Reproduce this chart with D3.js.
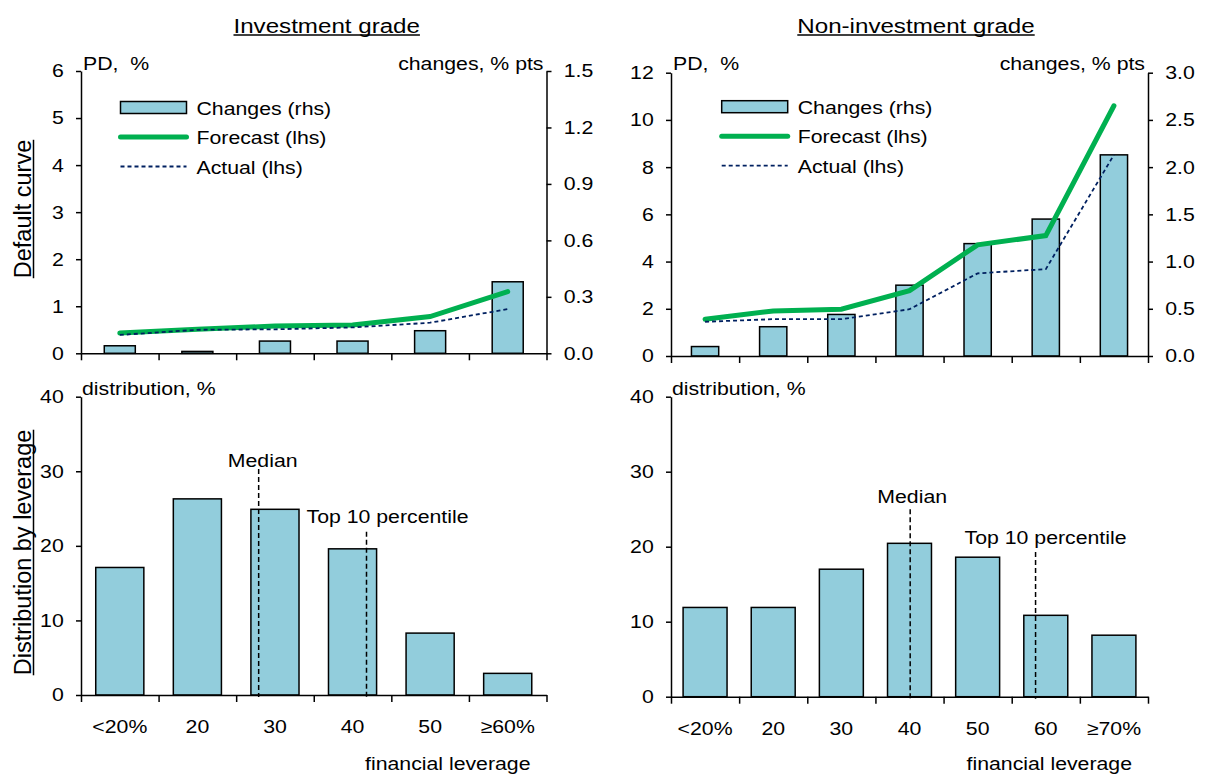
<!DOCTYPE html>
<html lang="en">
<head>
<meta charset="utf-8">
<title>Default curve and leverage distribution</title>
<script src="https://cdn.jsdelivr.net/npm/d3@7"></script>
<style>
body { margin: 0; background: #fff; }
svg text { font-family: "Liberation Sans", Arial, sans-serif; fill: #000; white-space: pre; }
.axis path, .axis line { stroke: #000; stroke-width: 1.5px; }
</style>
</head>
<body>
<script>
var w = 1211, h = 774;
var sx = 1.15;      // the source text is drawn a bit wide
var fs = 18.5;

// categories
var igCats = ["<20%", "20", "30", "40", "50", "\u226560%"];
var nigCats = ["<20%", "20", "30", "40", "50", "60", "\u226570%"];

// default curve, investment grade
var igChanges = [0.04, 0.01, 0.065, 0.065, 0.12, 0.38];   // % pts, rhs
var igForecast = [0.43, 0.51, 0.58, 0.60, 0.78, 1.31];    // %, lhs
var igActual = [0.39, 0.50, 0.51, 0.55, 0.65, 0.94];      // %, lhs

// default curve, non-investment grade
var nigChanges = [0.10, 0.31, 0.44, 0.75, 1.19, 1.45, 2.13];
var nigForecast = [1.56, 1.91, 1.98, 2.77, 4.71, 5.10, 10.6];
var nigActual = [1.45, 1.56, 1.56, 1.98, 3.50, 3.68, 8.52];

// distribution by leverage, %
var igDist = [17.1, 26.3, 24.9, 19.6, 8.3, 2.9];
var nigDist = [11.9, 11.9, 17.0, 20.45, 18.6, 10.85, 8.2];

// markers: position in category units, height of the line in %
var igMarkerNames = ["Median", "Top 10 percentile"];
var igMarkerAt = [2.29, 3.68];
var igMarkerTop = [30.3, 21.9];
var nigMarkerNames = ["Median", "Top 10 percentile"];
var nigMarkerAt = [3.51, 5.35];
var nigMarkerTop = [25.0, 19.3];

// tick values
var igLeftTicks = [0, 1, 2, 3, 4, 5, 6];
var igRightTicks = [0, 0.3, 0.6, 0.9, 1.2, 1.5];
var nigLeftTicks = [0, 2, 4, 6, 8, 10, 12];
var nigRightTicks = [0, 0.5, 1, 1.5, 2, 2.5, 3];
var distTicks = [0, 10, 20, 30, 40];

var barFill = "#92CDDC";
var green = "#00B050";
var navy = "#002060";

var svg = d3.select("body").append("svg")
            .attr("width", w)
            .attr("height", h);

function label(x, y, s, size, anchor) {
  return svg.append("text")
            .attr("transform", "translate(" + x + "," + y + ") scale(" + sx + ",1)")
            .attr("text-anchor", anchor || "start")
            .style("font-size", size + "px")
            .text(s);
}

function fixTicks(g) {
  g.attr("font-family", null).attr("font-size", null);
  g.selectAll(".tick text")
   .attr("transform", "scale(" + sx + ",1)")
   .style("font-size", fs + "px");
}

function xAxes(x0, x1, y0, cats, withLabels) {
  var n = cats.length;
  var xLin = d3.scaleLinear().domain([0, n]).range([x0, x1]);
  svg.append("g")
     .attr("class", "axis")
     .attr("transform", "translate(0," + y0 + ")")
     .call(d3.axisBottom(xLin).tickValues(d3.range(n + 1)).tickSize(7).tickSizeOuter(0).tickFormat(""));
  if (withLabels) {
    var xb = d3.scaleBand().domain(cats).range([x0, x1]);
    var g = svg.append("g")
               .attr("transform", "translate(0," + y0 + ")")
               .call(d3.axisBottom(xb).tickSize(0).tickPadding(25));
    g.select(".domain").remove();
    fixTicks(g);
  }
  return xLin;
}

function bars(cats, vals, xb, y) {
  svg.append("g").selectAll("rect")
     .data(vals)
     .enter()
     .append("rect")
     .attr("x", function(d, i) { return xb(cats[i]); })
     .attr("width", xb.bandwidth())
     .attr("y", function(d) { return y(d); })
     .attr("height", function(d) { return y(0) - y(d); })
     .attr("fill", barFill)
     .attr("stroke", "#000")
     .attr("stroke-width", 1.5);
}

function curvePanel(o) {
  var cats = o.cats;
  var xb = d3.scaleBand().domain(cats).range([o.x0, o.x1]).paddingInner(0.6).paddingOuter(0.3);
  var yL = d3.scaleLinear().domain([0, o.leftTicks[o.leftTicks.length - 1]]).range([o.yb, o.yt]);
  var yR = d3.scaleLinear().domain([0, o.rightTicks[o.rightTicks.length - 1]]).range([o.yb, o.yt]);

  bars(cats, o.changes, xb, yR);

  var line = d3.line()
               .x(function(d, i) { return xb(cats[i]) + xb.bandwidth() / 2; })
               .y(function(d) { return yL(d); });
  svg.append("path").datum(o.forecast)
     .attr("d", line).attr("fill", "none")
     .attr("stroke", green).attr("stroke-width", 5).attr("stroke-linecap", "round");
  svg.append("path").datum(o.actual)
     .attr("d", line).attr("fill", "none")
     .attr("stroke", navy).attr("stroke-width", 1.8).attr("stroke-dasharray", "4,3");

  var gl = svg.append("g").attr("class", "axis")
              .attr("transform", "translate(" + o.x0 + ",0)")
              .call(d3.axisLeft(yL).tickValues(o.leftTicks).tickSize(5).tickSizeOuter(0).tickPadding(10).tickFormat(d3.format("d")));
  fixTicks(gl);
  var gr = svg.append("g").attr("class", "axis")
              .attr("transform", "translate(" + o.x1 + ",0)")
              .call(d3.axisRight(yR).tickValues(o.rightTicks).tickSize(5).tickSizeOuter(0).tickPadding(10).tickFormat(d3.format(".1f")));
  fixTicks(gr);
  xAxes(o.x0, o.x1, o.yb, cats, false);

  label(o.x0 + 2, 70, "PD,  %", fs, "start");
  label(o.x1 - 3, 70, "changes, % pts", fs, "end");

  // legend
  var lx = o.legX, ly = o.legY;
  svg.append("rect").attr("x", lx).attr("y", ly - 6).attr("width", 66).attr("height", 12)
     .attr("fill", barFill).attr("stroke", "#000").attr("stroke-width", 1.5);
  svg.append("line").attr("x1", lx).attr("x2", lx + 66).attr("y1", ly + 29.5).attr("y2", ly + 29.5)
     .attr("stroke", green).attr("stroke-width", 5).attr("stroke-linecap", "round");
  svg.append("line").attr("x1", lx).attr("x2", lx + 66).attr("y1", ly + 59).attr("y2", ly + 59)
     .attr("stroke", navy).attr("stroke-width", 1.8).attr("stroke-dasharray", "4,3");
  label(lx + 76, ly + 7, "Changes (rhs)", fs);
  label(lx + 76, ly + 36.5, "Forecast (lhs)", fs);
  label(lx + 76, ly + 66, "Actual (lhs)", fs);
}

function distPanel(o) {
  var cats = o.cats;
  var xb = d3.scaleBand().domain(cats).range([o.x0, o.x1]).paddingInner(o.pad).paddingOuter(o.pad / 2);
  var y = d3.scaleLinear().domain([0, 40]).range([o.yb, o.yt]);
  bars(cats, o.vals, xb, y);

  var gl = svg.append("g").attr("class", "axis")
              .attr("transform", "translate(" + o.x0 + ",0)")
              .call(d3.axisLeft(y).tickValues(distTicks).tickSize(5).tickSizeOuter(0).tickPadding(10).tickFormat(d3.format("d")));
  fixTicks(gl);
  var xLin = xAxes(o.x0, o.x1, o.yb, cats, true);

  o.names.forEach(function(nm, i) {
    var x = xLin(o.at[i]);
    svg.append("line")
       .attr("x1", x).attr("x2", x)
       .attr("y1", y(o.top[i])).attr("y2", o.yb + 2)
       .attr("stroke", "#000").attr("stroke-width", 1.5).attr("stroke-dasharray", "5,3");
    label(x + o.lab[i][0], y(o.top[i]) - o.lab[i][1], nm, fs, "middle");
  });

  label(o.x0 + 1, 395, "distribution, %", fs, "start");
  label(o.x1 - 16, 770, "financial leverage", fs, "end");
}

curvePanel({cats: igCats, changes: igChanges, forecast: igForecast, actual: igActual,
            leftTicks: igLeftTicks, rightTicks: igRightTicks,
            x0: 81, x1: 546.5, yt: 71, yb: 353.3, legX: 120.5, legY: 107.5});
curvePanel({cats: nigCats, changes: nigChanges, forecast: nigForecast, actual: nigActual,
            leftTicks: nigLeftTicks, rightTicks: nigRightTicks,
            x0: 671, x1: 1148, yt: 72.7, yb: 356, legX: 721.7, legY: 106.7});

distPanel({cats: igCats, vals: igDist, names: igMarkerNames, at: igMarkerAt, top: igMarkerTop,
           lab: [[4, 2.5], [21, 8.4]], pad: 0.38, x0: 81, x1: 546.5, yt: 396.7, yb: 695});
distPanel({cats: nigCats, vals: nigDist, names: nigMarkerNames, at: nigMarkerAt, top: nigMarkerTop,
           lab: [[2, 6], [10, 7.7]], pad: 0.355, x0: 671, x1: 1148, yt: 396.7, yb: 696.7});

// panel titles, underlined
function title(x, y, s) {
  var t = label(x, y, s, 21, "middle");
  var len = t.node().getComputedTextLength() * sx;
  svg.append("line").attr("x1", x - len / 2).attr("x2", x + len / 2)
     .attr("y1", y + 2.5).attr("y2", y + 2.5)
     .attr("stroke", "#000").attr("stroke-width", 1.5);
}
title(326.7, 32.5, "Investment grade");
title(916, 32.5, "Non-investment grade");

// row titles, rotated and underlined
function rowTitle(cy, s) {
  var t = svg.append("text")
             .attr("transform", "translate(30.5," + cy + ") rotate(-90)")
             .attr("text-anchor", "middle")
             .style("font-size", "23.5px")
             .text(s);
  var len = t.node().getComputedTextLength();
  svg.append("line").attr("x1", 33.5).attr("x2", 33.5)
     .attr("y1", cy - len / 2).attr("y2", cy + len / 2)
     .attr("stroke", "#000").attr("stroke-width", 1.5);
}
rowTitle(209, "Default curve");
rowTitle(552.5, "Distribution by leverage");
</script>
</body>
</html>
